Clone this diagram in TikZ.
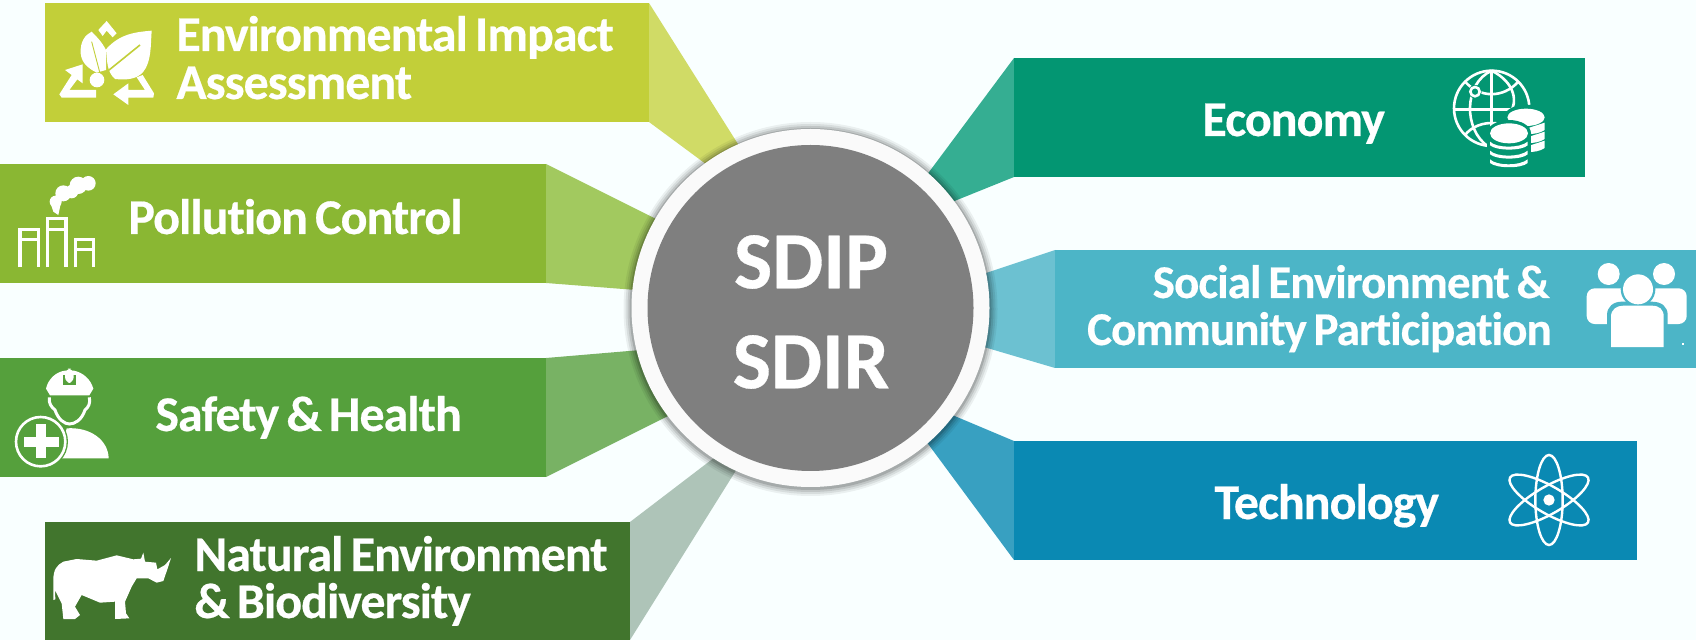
\documentclass[tikz,border=0pt]{standalone}
\usepackage{fontspec}
\setmainfont{Carlito}
\newfontfamily\lab[LetterSpace=-2.0,WordSpace=0.7,Ligatures=NoCommon,BoldFeatures={FakeBold=0.4}]{Carlito}
\newfontfamily\hubf[BoldFeatures={FakeBold=0.4}]{Carlito}
\definecolor{bgc}{HTML}{F9FFFF}
\definecolor{eia}{HTML}{C2CF39}\definecolor{eiaf}{HTML}{D0DB66}
\definecolor{pol}{HTML}{8AB733}\definecolor{polf}{HTML}{A2C95F}
\definecolor{saf}{HTML}{55A03C}\definecolor{saff}{HTML}{78B264}
\definecolor{nat}{HTML}{41752D}\definecolor{natf}{HTML}{AEC4B8}
\definecolor{eco}{HTML}{039672}\definecolor{ecof}{HTML}{35AE92}
\definecolor{soc}{HTML}{4CB5C7}\definecolor{socf}{HTML}{6CC1D1}
\definecolor{tec}{HTML}{0A89B3}\definecolor{tecf}{HTML}{38A0C1}
\definecolor{hubc}{HTML}{7F7F7F}\definecolor{ringc}{HTML}{FAFAFA}
\tikzset{
  lbl/.style={text=white,inner sep=0pt,font=\lab\bfseries\fontsize{25}{24}\selectfont},
  lbls/.style={text=white,inner sep=0pt,font=\lab\bfseries\fontsize{23.5}{24}\selectfont},
  hublabel/.style={text=white,font=\hubf\bfseries\fontsize{40.5}{50}\selectfont,align=center,inner sep=0pt},
  zoomed/.style={x=0.16667pt,y=-0.16667pt},
  ic/.style={fill=white,draw=none}
}
\begin{document}
\begin{tikzpicture}[x=0.5pt,y=-0.5pt]
\useasboundingbox (0,0) rectangle (1696,640);
\fill[bgc] (0,0) rectangle (1696,640);
% fans
\fill[eiaf] (649,3) -- (760,179) -- (760,204) -- (649,122) -- cycle;
\fill[polf] (546,164) -- (700,241) -- (700,295) -- (546,283) -- cycle;
\fill[saff] (546,358) -- (700,345) -- (700,400) -- (546,477) -- cycle;
\fill[natf] (630,522) -- (740,438) -- (760,432) -- (630,640) -- cycle;
\fill[ecof] (1014,58) -- (900,211) -- (900,223) -- (1014,177) -- cycle;
\fill[socf] (1055,250) -- (950,285) -- (950,337) -- (1055,368) -- cycle;
\fill[tecf] (1014,441) -- (900,393) -- (900,406) -- (1014,560) -- cycle;
% boxes
\fill[eia] (45,3) rectangle (649,122);
\fill[pol] (0,164) rectangle (546,283);
\fill[saf] (0,358) rectangle (546,477);
\fill[nat] (45,522) rectangle (630,640);
\fill[eco] (1014,58) rectangle (1585,177);
\fill[soc] (1055,250) rectangle (1696,368);
\fill[tec] (1014,441) rectangle (1637,560);
% hub
\foreach \r/\o in {187/.06,185/.08,183/.10,181/.14}{\fill[black,opacity=\o] (810.5,309) circle[radius=\r];}
\fill[ringc] (810.5,308) circle[radius=179];
\node[circle,fill=hubc,minimum size=163pt,inner sep=0pt] (hub) at (810.5,308) {};
\node[hublabel] (hubt) at (811,312) {SDIP\\SDIR};
% labels
\node[lbl,anchor=base west] (t1a) at (176,51) {Environmental Impact};
\node[lbl,anchor=base west] (t1b) at (176,99) {Assessment};
\node[lbl,anchor=base west] (t2) at (128,234) {Pollution Control};
\node[lbl,anchor=base west] (t3) at (155,431) {Safety \& Health};
\node[lbl,anchor=base west] (t4a) at (194,571) {Natural Environment};
\node[lbl,anchor=base west] (t4b) at (194,618) {\& Biodiversity};
\node[lbl,anchor=base west] (t5) at (1202,136) {Economy};
\node[lbls,anchor=base east] (t6a) at (1550,298) {Social Environment \&};
\node[lbls,anchor=base east] (t6b) at (1552,345) {Community Participation};
\node[lbl,anchor=base west] (t7) at (1214,519) {Technology};
% EIA icon
\begin{scope}[zoomed]
\fill[ic] (455,92) .. controls (410,96) and (360,100) .. (318,148) .. controls (322,185) and (320,215) .. (345,237) .. controls (375,240) and (410,240) .. (430,215) .. controls (455,185) and (452,130) .. (455,92) -- cycle;
\fill[ic] (275,95) .. controls (255,105) and (240,125) .. (242,160) .. controls (245,190) and (265,205) .. (290,218) -- (318,210) .. controls (318,180) and (318,165) .. (318,150) .. controls (305,125) and (290,110) .. (275,95) -- cycle;
\draw[eia,line width=0.8pt] (420,135) -- (305,228);
\draw[eia,line width=0.45pt] (275,125) -- (300,220);
\fill[ic] (291,240) circle[radius=22];
\fill[ic] (295,90) -- (320,63) -- (350,100) -- (338,112) -- (320,92) -- (308,108) -- cycle;
\fill[ic] (195,210) -- (248,193) -- (248,250) -- (232,238) -- (208,270) -- (288,270) -- (288,293) -- (185,293) -- (178,283) -- (215,225) -- cycle;
\fill[ic] (340,283) -- (385,250) -- (385,270) -- (435,270) -- (410,232) -- (428,225) -- (462,280) -- (460,293) -- (385,293) -- (385,315) -- cycle;
\end{scope}
% Pollution icon
\begin{scope}[zoomed]
\fill[ic] (167,605) circle[radius=18] (190,580) circle[radius=24] (235,556) circle[radius=26] (265,550) circle[radius=22] (215,575) circle[radius=20];
\fill[ic] (150,605) -- (160,635) -- (175,645) -- (182,612) -- cycle;
\draw[white,line width=1.6pt] (60,802) |- (115,688) -- (115,802) (60,718) -- (115,718);
\draw[white,line width=1.6pt] (143,802) |- (198,656) -- (198,802) (143,688) -- (198,688);
\draw[white,line width=1.6pt] (227,802) |- (280,718) -- (280,802) (227,748) -- (280,748);
\end{scope}
% Safety icon
\begin{scope}[shift={(0,320)},zoomed]
\fill[ic] (200,325) .. controls (270,320) and (325,360) .. (326,415) -- (180,415) -- cycle;
\draw[white,line width=1.5pt] (148,232) .. controls (145,250) and (155,262) .. (165,270) .. controls (175,300) and (195,312) .. (208,312) .. controls (225,312) and (245,300) .. (255,270) .. controls (265,262) and (272,250) .. (268,232);
\fill[ic] (138,206) .. controls (145,175) and (170,155) .. (195,152) -- (222,152) .. controls (250,158) and (272,178) .. (280,206) -- (268,226) -- (150,226) -- cycle;
\fill[saf] (189,165) rectangle (228,196);
\fill[ic,rounded corners=3pt] (195,146) rectangle (221,189);
\fill[saf] (122,365) circle[radius=82];
\draw[white,line width=1.3pt] (122,365) circle[radius=74];
\fill[ic] (108,313) rectangle (137,415);
\fill[ic] (72,350) rectangle (178,380);
\end{scope}
% Rhino
\begin{scope}[shift={(0,320)},zoomed]
\fill[ic] (160,840) -- (160,780) .. controls (160,750) and (170,735) .. (190,725) -- (230,717) -- (290,722) -- (350,706) -- (400,718) -- (423,716) -- (430,698) -- (435,725) -- (468,728) -- (472,748) -- (495,735) -- (513,714) -- (503,745) -- (490,783) -- (470,788) -- (445,775) -- (410,775) -- (395,800) -- (375,845) -- (378,880) -- (388,895) -- (345,897) -- (345,845) -- (300,848) -- (245,825) -- (225,860) -- (240,885) -- (225,897) -- (190,897) -- (185,850) -- (165,810) -- (166,838) -- cycle;
\end{scope}
% Globe
\begin{scope}[shift={(1300,40)},zoomed]
\begin{scope}[white,line width=1.3pt]
\draw (575,205) circle[radius=113];
\draw (575,92) -- (575,260);
\draw (462,208) -- (640,208);
\draw (575,92) .. controls (490,130) and (490,270) .. (565,320);
\draw (575,92) .. controls (650,130) and (650,190) .. (632,215);
\draw (495,125) .. controls (540,175) and (610,175) .. (655,125);
\draw (495,285) .. controls (515,260) and (550,245) .. (590,250);
\end{scope}
\fill[eco] (525,155) circle[radius=20];
\draw[white,line width=1.3pt] (525,155) circle[radius=14];
\fill[eco] (678,232) ellipse[x radius=66,y radius=38];
\fill[eco] (612,240) rectangle (744,340);
\fill[ic] (678,232) ellipse[x radius=56,y radius=26];
\foreach \y in {258,285,312}{\fill[ic] (688,\y+5) -- (734,\y-10) -- (734,\y+12) .. controls (720,\y+22) and (700,\y+24) .. (688,\y+24) -- cycle;}
\fill[eco] (627,280) ellipse[x radius=66,y radius=40];
\fill[eco] (561,280) rectangle (693,385);
\fill[ic] (627,280) ellipse[x radius=57,y radius=30];
\foreach \y in {313,340,366}{\fill[ic] (570,\y-8) .. controls (590,\y+12) and (660,\y+12) .. (683,\y-8) -- (683,\y+3) .. controls (665,\y+20) and (590,\y+20) .. (570,\y+3) -- cycle;}
\end{scope}
% People
\begin{scope}[shift={(1300,40)},zoomed]
\fill[ic] (926,702) circle[radius=33] (1092,702) circle[radius=33];
\fill[ic,rounded corners=4pt] (860,852) -- (860,745) -- (1160,745) -- (1160,852) -- cycle;
\fill[soc] (921,860) -- (921,825) .. controls (921,800) and (940,785) .. (965,785) -- (1055,785) .. controls (1085,785) and (1103,800) .. (1103,825) -- (1103,860) -- cycle;
\fill[soc] (1014,748) circle[radius=52];
\fill[ic] (1014,748) circle[radius=45];
\fill[ic] (933,921) -- (933,830) .. controls (933,808) and (950,797) .. (970,797) -- (1055,797) .. controls (1078,797) and (1091,808) .. (1091,830) -- (1091,921) -- cycle;
\fill[ic] (1147,909) rectangle +(5,5);
\end{scope}
% Atom
\begin{scope}[shift={(1300,300)},zoomed]
\foreach \a in {0,60,-60}{\draw[white,line width=1.2pt,rotate around={\a:(747,600)}] (747,600) ellipse[x radius=41,y radius=135];}
\fill[ic] (747,600) circle[radius=17];
\end{scope}
\end{tikzpicture}
\end{document}
